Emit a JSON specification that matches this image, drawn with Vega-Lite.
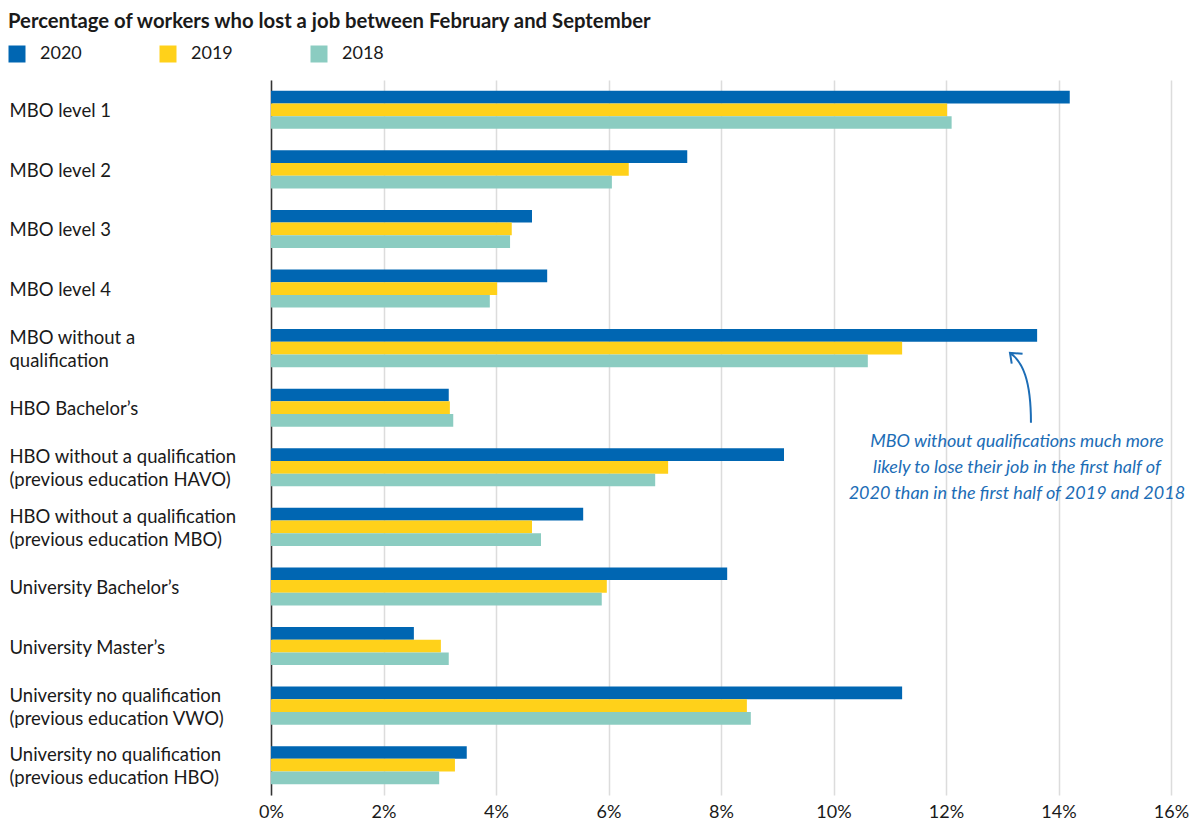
{
  "$schema": "https://vega.github.io/schema/vega-lite/v6.json",
  "width": 900,
  "height": 715,
  "autosize": "none",
  "padding": {"left": 271, "top": 80, "right": 32, "bottom": 28},
  "background": "white",
  "config": {
    "font": "Lato",
    "view": {"stroke": null},
    "text": {"font": "Lato"}
  },
  "title": {
    "text": "Percentage of workers who lost a job between February and September",
    "anchor": "start",
    "frame": "group",
    "dx": -263,
    "offset": 13,
    "fontSize": 20.3,
    "font": "Lato",
    "fontWeight": "bold",
    "color": "#1a1a1a"
  },
  "datasets": {
    "bars": [
      {"cat": "MBO level 1", "year": "2020", "value": 14.2},
      {"cat": "MBO level 1", "year": "2019", "value": 12.02},
      {"cat": "MBO level 1", "year": "2018", "value": 12.1},
      {"cat": "MBO level 2", "year": "2020", "value": 7.4},
      {"cat": "MBO level 2", "year": "2019", "value": 6.36},
      {"cat": "MBO level 2", "year": "2018", "value": 6.06},
      {"cat": "MBO level 3", "year": "2020", "value": 4.64},
      {"cat": "MBO level 3", "year": "2019", "value": 4.28},
      {"cat": "MBO level 3", "year": "2018", "value": 4.25},
      {"cat": "MBO level 4", "year": "2020", "value": 4.91},
      {"cat": "MBO level 4", "year": "2019", "value": 4.02},
      {"cat": "MBO level 4", "year": "2018", "value": 3.89},
      {"cat": "MBO without a\nqualification", "year": "2020", "value": 13.62},
      {"cat": "MBO without a\nqualification", "year": "2019", "value": 11.22},
      {"cat": "MBO without a\nqualification", "year": "2018", "value": 10.61},
      {"cat": "HBO Bachelor’s", "year": "2020", "value": 3.16},
      {"cat": "HBO Bachelor’s", "year": "2019", "value": 3.18},
      {"cat": "HBO Bachelor’s", "year": "2018", "value": 3.24},
      {"cat": "HBO without a qualification\n(previous education HAVO)", "year": "2020", "value": 9.12},
      {"cat": "HBO without a qualification\n(previous education HAVO)", "year": "2019", "value": 7.06},
      {"cat": "HBO without a qualification\n(previous education HAVO)", "year": "2018", "value": 6.83},
      {"cat": "HBO without a qualification\n(previous education MBO)", "year": "2020", "value": 5.55},
      {"cat": "HBO without a qualification\n(previous education MBO)", "year": "2019", "value": 4.64},
      {"cat": "HBO without a qualification\n(previous education MBO)", "year": "2018", "value": 4.8},
      {"cat": "University Bachelor’s", "year": "2020", "value": 8.11},
      {"cat": "University Bachelor’s", "year": "2019", "value": 5.97},
      {"cat": "University Bachelor’s", "year": "2018", "value": 5.88},
      {"cat": "University Master’s", "year": "2020", "value": 2.54},
      {"cat": "University Master’s", "year": "2019", "value": 3.02},
      {"cat": "University Master’s", "year": "2018", "value": 3.16},
      {"cat": "University no qualification\n(previous education VWO)", "year": "2020", "value": 11.22},
      {"cat": "University no qualification\n(previous education VWO)", "year": "2019", "value": 8.46},
      {"cat": "University no qualification\n(previous education VWO)", "year": "2018", "value": 8.53},
      {"cat": "University no qualification\n(previous education HBO)", "year": "2020", "value": 3.48},
      {"cat": "University no qualification\n(previous education HBO)", "year": "2019", "value": 3.27},
      {"cat": "University no qualification\n(previous education HBO)", "year": "2018", "value": 2.99}
    ],
    "note": [
      {"cat": "HBO without a qualification\n(previous education HAVO)", "value": 13.26, "note": "MBO without qualifications much more|likely to lose their job in the first half of|2020 than in the first half of 2019 and 2018"}
    ],
    "arrow": [
      {"cat": "HBO Bachelor’s", "value": 13.33}
    ]
  },
  "encoding": {
    "x": {
      "field": "value",
      "type": "quantitative",
      "scale": {"domain": [0, 16], "nice": false},
      "axis": {
        "title": null,
        "values": [0, 2, 4, 6, 8, 10, 12, 14, 16],
        "labelExpr": "datum.value + '%'",
        "labelFlush": false,
        "grid": true,
        "gridColor": "#dcdcdc",
        "gridWidth": 1.5,
        "domain": false,
        "ticks": false,
        "labelFontSize": 18,
        "labelColor": "#1a1a1a",
        "labelPadding": 8,
        "labelFont": "Lato"
      }
    },
    "y": {
      "field": "cat",
      "type": "nominal",
      "scale": {
        "domain": [
          "MBO level 1", "MBO level 2", "MBO level 3", "MBO level 4",
          "MBO without a\nqualification", "HBO Bachelor’s",
          "HBO without a qualification\n(previous education HAVO)",
          "HBO without a qualification\n(previous education MBO)",
          "University Bachelor’s", "University Master’s",
          "University no qualification\n(previous education VWO)",
          "University no qualification\n(previous education HBO)"
        ],
        "paddingInner": 0.36,
        "paddingOuter": 0.18
      },
      "axis": {
        "title": null,
        "ticks": false,
        "tickSize": 0,
        "domain": true,
        "domainColor": "#333333",
        "domainWidth": 1.5,
        "labelAlign": "left",
        "labelBaseline": "middle",
        "labelPadding": 262,
        "labelLimit": 400,
        "labelFontSize": 18.5,
        "labelLineHeight": 23,
        "labelOffset": {"condition": {"test": "indexof(datum.value, '\\n') >= 0", "value": -10}, "value": 1.5},
        "labelColor": "#1a1a1a",
        "labelFont": "Lato",
        "labelExpr": "split(datum.value, '\\n')"
      }
    }
  },
  "layer": [
    {
      "data": {"name": "bars"},
      "mark": {"type": "bar"},
      "encoding": {
        "yOffset": {"field": "year", "type": "nominal", "sort": ["2020", "2019", "2018"], "scale": {"paddingInner": 0, "paddingOuter": 0}},
        "color": {
          "field": "year",
          "type": "nominal",
          "sort": ["2020", "2019", "2018"],
          "scale": {"domain": ["2020", "2019", "2018"], "range": ["#0066b2", "#ffd11a", "#8bccc1"]},
          "legend": {
            "title": null,
            "orient": "none",
            "legendX": -263,
            "legendY": -35,
            "direction": "horizontal",
            "symbolType": "square",
            "symbolSize": 289,
            "symbolStrokeWidth": 0,
            "labelFontSize": 18,
            "labelFont": "Lato",
            "labelColor": "#1a1a1a",
            "labelOffset": 14,
            "columnPadding": 77,
            "padding": 0
          }
        }
      }
    },
    {
      "data": {"name": "note"},
      "mark": {"type": "text", "lineBreak": "|", "fontStyle": "italic", "fontSize": 18, "font": "Lato", "color": "#1c6db6", "align": "center", "baseline": "middle", "lineHeight": 26, "dy": -25},
      "encoding": {"text": {"field": "note", "type": "nominal"}}
    },
    {
      "data": {"name": "arrow"},
      "mark": {"type": "point", "shape": "M0.29,0.43 C0.29,-0.8 0.05,-1.31 -0.31,-1.57 M0.05,-1.54 L-0.31,-1.57 L-0.26,-1.26", "size": 4900, "filled": false, "stroke": "#1c6db6", "strokeWidth": 2, "opacity": 1},
      "encoding": {}
    }
  ]
}
